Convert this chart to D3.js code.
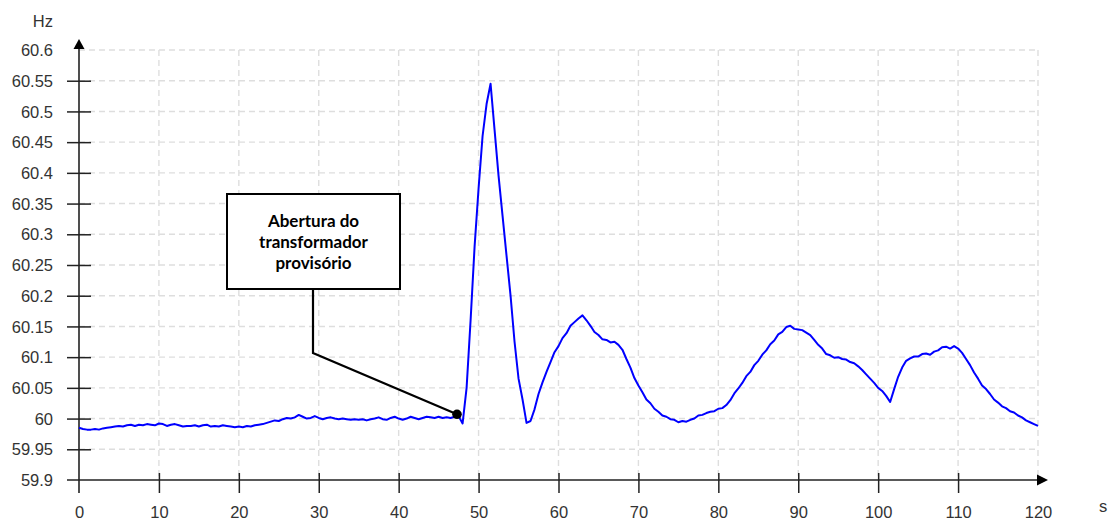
<!DOCTYPE html>
<html>
<head>
<meta charset="utf-8">
<script src="https://cdn.jsdelivr.net/npm/d3@7/dist/d3.min.js"></script>
<style>
  html, body { margin: 0; padding: 0; background: #fff; }
  svg { display: block; }
</style>
</head>
<body>
<svg id="chart" width="1109" height="520"></svg>
<script>
// Frequency record sampled every 0.5 s, from 0 s to 120 s
const sampleStart = 0;
const sampleStep = 0.5;
const frequencyHz = [
  // 0 – 9.5 s
  59.985, 59.983, 59.982, 59.982, 59.983, 59.982, 59.984, 59.985, 59.986, 59.987,
  59.988, 59.987, 59.989, 59.990, 59.988, 59.990, 59.989, 59.991, 59.990, 59.989,
  // 10 – 19.5 s
  59.992, 59.991, 59.988, 59.990, 59.991, 59.989, 59.987, 59.988, 59.988, 59.989,
  59.987, 59.989, 59.990, 59.987, 59.988, 59.987, 59.989, 59.988, 59.987, 59.986,
  // 20 – 29.5 s
  59.987, 59.986, 59.988, 59.987, 59.989, 59.990, 59.991, 59.993, 59.995, 59.997,
  59.996, 59.999, 60.001, 60.000, 60.002, 60.006, 60.003, 60.000, 60.001, 60.004,
  // 30 – 39.5 s
  60.001, 59.999, 60.001, 60.002, 60.000, 59.999, 60.000, 59.999, 59.998, 59.999,
  59.998, 59.999, 59.997, 59.999, 60.000, 60.002, 59.999, 59.998, 60.001, 60.003,
  // 40 – 49.5 s
  60.000, 59.998, 60.000, 60.003, 60.001, 59.999, 60.001, 60.003, 60.002, 60.001,
  60.003, 60.001, 60.002, 60.001, 60.003, 60.004, 59.992, 60.050, 60.160, 60.280,
  // 50 – 59.5 s
  60.375, 60.460, 60.512, 60.545, 60.470, 60.395, 60.330, 60.265, 60.200, 60.125,
  60.065, 60.031, 59.993, 59.996, 60.015, 60.040, 60.059, 60.076, 60.092, 60.108,
  // 60 – 69.5 s
  60.118, 60.131, 60.139, 60.151, 60.157, 60.163, 60.168, 60.160, 60.151, 60.141,
  60.136, 60.129, 60.128, 60.124, 60.125, 60.120, 60.112, 60.097, 60.083, 60.066,
  // 70 – 79.5 s
  60.054, 60.043, 60.031, 60.025, 60.016, 60.011, 60.005, 60.003, 59.999, 59.998,
  59.994, 59.996, 59.995, 59.998, 60.000, 60.005, 60.006, 60.009, 60.011, 60.012,
  // 80 – 89.5 s
  60.016, 60.017, 60.022, 60.030, 60.041, 60.049, 60.058, 60.069, 60.076, 60.087,
  60.094, 60.104, 60.111, 60.121, 60.127, 60.137, 60.141, 60.149, 60.151, 60.146,
  // 90 – 99.5 s
  60.145, 60.144, 60.140, 60.136, 60.128, 60.120, 60.114, 60.105, 60.103, 60.099,
  60.100, 60.097, 60.096, 60.092, 60.090, 60.085, 60.079, 60.072, 60.065, 60.058,
  // 100 – 109.5 s
  60.050, 60.045, 60.037, 60.027, 60.048, 60.068, 60.083, 60.094, 60.098, 60.101,
  60.101, 60.105, 60.106, 60.104, 60.109, 60.111, 60.116, 60.117, 60.114, 60.118,
  // 110 – 120 s
  60.114, 60.107, 60.097, 60.087, 60.075, 60.065, 60.054, 60.048, 60.040, 60.031,
  60.026, 60.020, 60.017, 60.012, 60.010, 60.005, 60.002, 59.997, 59.994, 59.991,
  59.988
];

// Axis ticks
const xTicks = [0, 10, 20, 30, 40, 50, 60, 70, 80, 90, 100, 110, 120];
const yTicks = [59.9, 59.95, 60, 60.05, 60.1, 60.15, 60.2, 60.25, 60.3, 60.35, 60.4, 60.45, 60.5, 60.55, 60.6];
const yTickLabels = ["59.9", "59.95", "60", "60.05", "60.1", "60.15", "60.2", "60.25", "60.3", "60.35", "60.4", "60.45", "60.5", "60.55", "60.6"];

// Annotation
const calloutLines = ["Abertura do", "transformador", "provisório"];
const calloutTarget = { t: 47.3, f: 60.007 };

const svg = d3.select("#chart");
const x = d3.scaleLinear().domain([0, 120]).range([79, 1038]);
const y = d3.scaleLinear().domain([59.9, 60.6]).range([480, 50]);

const series = frequencyHz.map((f, i) => ({ t: sampleStart + i * sampleStep, f }));

// Dashed grid
const grid = svg.append("g").attr("stroke", "#dedede").attr("stroke-width", 1.4)
  .attr("stroke-dasharray", "6,4").attr("fill", "none");
grid.selectAll("line.h").data(yTicks.filter(v => v > 59.9)).join("line")
  .attr("x1", x(0)).attr("x2", x(120))
  .attr("y1", d => y(d)).attr("y2", d => y(d));
grid.selectAll("line.v").data(xTicks.filter(v => v > 0)).join("line")
  .attr("x1", d => x(d)).attr("x2", d => x(d))
  .attr("y1", y(60.6)).attr("y2", y(59.9));

// Axes drawn as crossing ticks with arrowheads
const axisColor = "#222";
const yAxis = d3.axisLeft(y).tickValues(yTicks).tickSizeInner(12).tickSizeOuter(0)
  .tickFormat((d, i) => yTickLabels[i]).tickPadding(14);
const yG = svg.append("g").attr("transform", `translate(${x(0)},0)`).call(yAxis);
yG.select(".domain").remove();
yG.selectAll(".tick line").attr("x2", -12).attr("x1", 12)
  .attr("stroke", axisColor).attr("stroke-width", 1.5);
yG.selectAll(".tick").filter(d => d === 60.6).select("line").remove();
yG.selectAll(".tick").filter(d => d === 59.9).select("line").remove();
yG.selectAll("text").attr("font-family", "Liberation Sans, Arial, sans-serif")
  .attr("font-size", 16.5).attr("fill", "#333").attr("x", -26).attr("dy", "0.34em");

const xAxis = d3.axisBottom(x).tickValues(xTicks).tickSizeInner(13).tickSizeOuter(0)
  .tickFormat(d3.format("d"));
const xG = svg.append("g").attr("transform", `translate(0,${y(59.9)})`).call(xAxis);
xG.select(".domain").remove();
xG.selectAll(".tick line").attr("y1", -7).attr("y2", 13)
  .attr("stroke", axisColor).attr("stroke-width", 1.5);
xG.selectAll(".tick").filter(d => d === 0 || d === 120).select("line").remove();
xG.selectAll("text").attr("font-family", "Liberation Sans, Arial, sans-serif")
  .attr("font-size", 16.5).attr("fill", "#333").attr("y", 38).attr("dy", 0);

const axes = svg.append("g").attr("stroke", axisColor).attr("stroke-width", 1.6);
axes.append("line").attr("x1", x(0)).attr("x2", x(0)).attr("y1", y(59.9) + 13).attr("y2", y(60.6) - 2);
axes.append("line").attr("x1", x(0) - 12).attr("x2", x(120)).attr("y1", y(59.9)).attr("y2", y(59.9));
svg.append("path")
  .attr("d", `M${x(0)},${y(60.6) - 11} L${x(0) - 5.5},${y(60.6) - 1} L${x(0) + 5.5},${y(60.6) - 1} Z`)
  .attr("fill", "#000");
svg.append("path")
  .attr("d", `M${x(120) + 10},${y(59.9)} L${x(120) - 1},${y(59.9) - 5.5} L${x(120) - 1},${y(59.9) + 5.5} Z`)
  .attr("fill", "#000");

// Units
svg.append("text").attr("x", 53).attr("y", 27).attr("text-anchor", "end")
  .attr("font-family", "Liberation Sans, Arial, sans-serif").attr("font-size", 16.5)
  .attr("fill", "#333").text("Hz");
svg.append("text").attr("x", 1099).attr("y", 512)
  .attr("font-family", "Liberation Sans, Arial, sans-serif").attr("font-size", 16.5)
  .attr("fill", "#333").text("s");

// Frequency trace
const line = d3.line().x(d => x(d.t)).y(d => y(d.f));
svg.append("path").datum(series)
  .attr("d", line).attr("fill", "none")
  .attr("stroke", "#0000ff").attr("stroke-width", 2).attr("stroke-linejoin", "round");

// Callout box with leader line
const box = { x: 227, y: 194, w: 173, h: 95 };
const tx = x(calloutTarget.t), ty = y(calloutTarget.f);
const elbowX = box.x + box.w / 2 - 0.5, elbowY = 353;
svg.append("path")
  .attr("d", `M${elbowX},${box.y + box.h} L${elbowX},${elbowY} L${tx},${ty}`)
  .attr("fill", "none").attr("stroke", "#000").attr("stroke-width", 2.2);
svg.append("circle").attr("cx", tx).attr("cy", ty).attr("r", 4.8).attr("fill", "#000");
svg.append("rect").attr("x", box.x).attr("y", box.y).attr("width", box.w).attr("height", box.h)
  .attr("fill", "#fff").attr("stroke", "#000").attr("stroke-width", 2);
svg.append("g").selectAll("text").data(calloutLines).join("text")
  .attr("x", box.x + box.w / 2).attr("y", (d, i) => 227 + i * 21)
  .attr("text-anchor", "middle")
  .attr("font-family", "Lato, 'Open Sans', sans-serif").attr("font-weight", "bold")
  .attr("font-size", 17).attr("fill", "#000")
  .text(d => d);
</script>
</body>
</html>
